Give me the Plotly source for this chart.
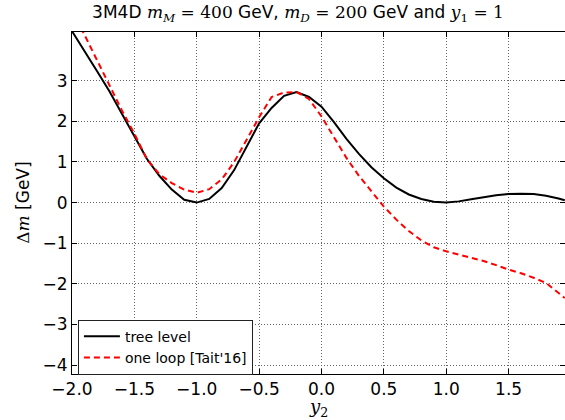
import plotly.graph_objects as go

y2_values = [-2.0, -1.9, -1.8, -1.7, -1.6, -1.5, -1.4, -1.3, -1.2, -1.1, -1.0, -0.9, -0.8, -0.7,
             -0.6, -0.5, -0.4, -0.3, -0.2, -0.1, 0.0, 0.1, 0.2, 0.3, 0.4, 0.5, 0.6, 0.7, 0.8, 0.9,
             1.0, 1.1, 1.2, 1.3, 1.4, 1.5, 1.6, 1.7, 1.8, 1.9, 1.95]

tree_level = [4.22, 3.74, 3.24, 2.74, 2.19, 1.65, 1.08, 0.66, 0.32, 0.07, 0.0, 0.09, 0.36, 0.8,
              1.38, 1.95, 2.33, 2.63, 2.72, 2.6, 2.36, 1.98, 1.57, 1.2, 0.87, 0.6, 0.37, 0.2,
              0.09, 0.02, 0.0, 0.03, 0.08, 0.13, 0.18, 0.21, 0.22, 0.21, 0.17, 0.1, 0.06]

one_loop = [4.75, 4.12, 3.52, 2.87, 2.27, 1.7, 1.07, 0.7, 0.48, 0.32, 0.24, 0.33, 0.57, 1.0,
            1.55, 2.1, 2.6, 2.71, 2.72, 2.55, 2.12, 1.6, 1.1, 0.66, 0.27, -0.1, -0.42, -0.7,
            -0.93, -1.1, -1.2, -1.28, -1.35, -1.44, -1.54, -1.65, -1.74, -1.85, -1.98, -2.22, -2.35]

x_ticks = [-2.0, -1.5, -1.0, -0.5, 0.0, 0.5, 1.0, 1.5]
y_ticks = [-4, -3, -2, -1, 0, 1, 2, 3]

fig = go.Figure()
fig.add_trace(go.Scatter(x=y2_values, y=tree_level, mode="lines", name="tree level",
                         line=dict(color="black", width=2)))
fig.add_trace(go.Scatter(x=y2_values, y=one_loop, mode="lines", name="one loop [Tait'16]",
                         line=dict(color="red", width=2, dash="6px,4px")))

serif = "DejaVu Serif"
title = ("3M4D <span style='font-family:DejaVu Serif'><i>m<sub>M</sub></i> = 400</span> GeV, "
         "<span style='font-family:DejaVu Serif'><i>m<sub>D</sub></i> = 200</span> GeV and "
         "<span style='font-family:DejaVu Serif'><i>y</i><sub>1</sub> = 1</span>")

axis_common = dict(showline=True, linecolor="black", linewidth=1, mirror="ticks",
                   ticks="inside", ticklen=5, tickcolor="black", tickwidth=1,
                   showgrid=True, gridcolor="#666", gridwidth=1, griddash="1px,2px",
                   zeroline=False, automargin=False,
                   tickfont=dict(family="DejaVu Sans", size=17, color="black"))

fig.update_layout(
    width=565, height=420,
    margin=dict(l=72, r=0, t=32, b=46),
    paper_bgcolor="white", plot_bgcolor="white",
    font=dict(family="DejaVu Sans", color="black"),
    title=dict(text=title, x=298 / 565, xanchor="center", y=0.985, yanchor="top",
               font=dict(family="DejaVu Sans", size=17, color="black")),
    xaxis=dict(range=[-2.0, 1.952], tickvals=x_ticks, tickformat=".1f", **axis_common),
    yaxis=dict(range=[-4.22, 4.2], tickvals=y_ticks, **axis_common),
    legend=dict(x=0.012, y=-0.002, xanchor="left", yanchor="bottom",
                bgcolor="white", bordercolor="#222", borderwidth=1,
                font=dict(family="DejaVu Sans", size=14, color="black"),
                tracegroupgap=0, itemwidth=36),
    showlegend=True,
    annotations=[
        dict(text="<i>y</i><sub>2</sub>", xref="paper", yref="paper", x=0.5, y=-0.099,
             xanchor="center", yanchor="middle", showarrow=False,
             font=dict(family=serif, size=18, color="black")),
        dict(text="<span style='font-family:DejaVu Serif'>Δ<i>m</i></span> [GeV]",
             xref="paper", yref="paper", x=-0.1, y=0.5, xanchor="center", yanchor="middle",
             textangle=-90, showarrow=False,
             font=dict(family="DejaVu Sans", size=17, color="black")),
    ],
)

fig.write_html("out.html", config={"displayModeBar": False},
               post_script="document.body.style.margin='0';document.body.style.overflow='hidden';")
